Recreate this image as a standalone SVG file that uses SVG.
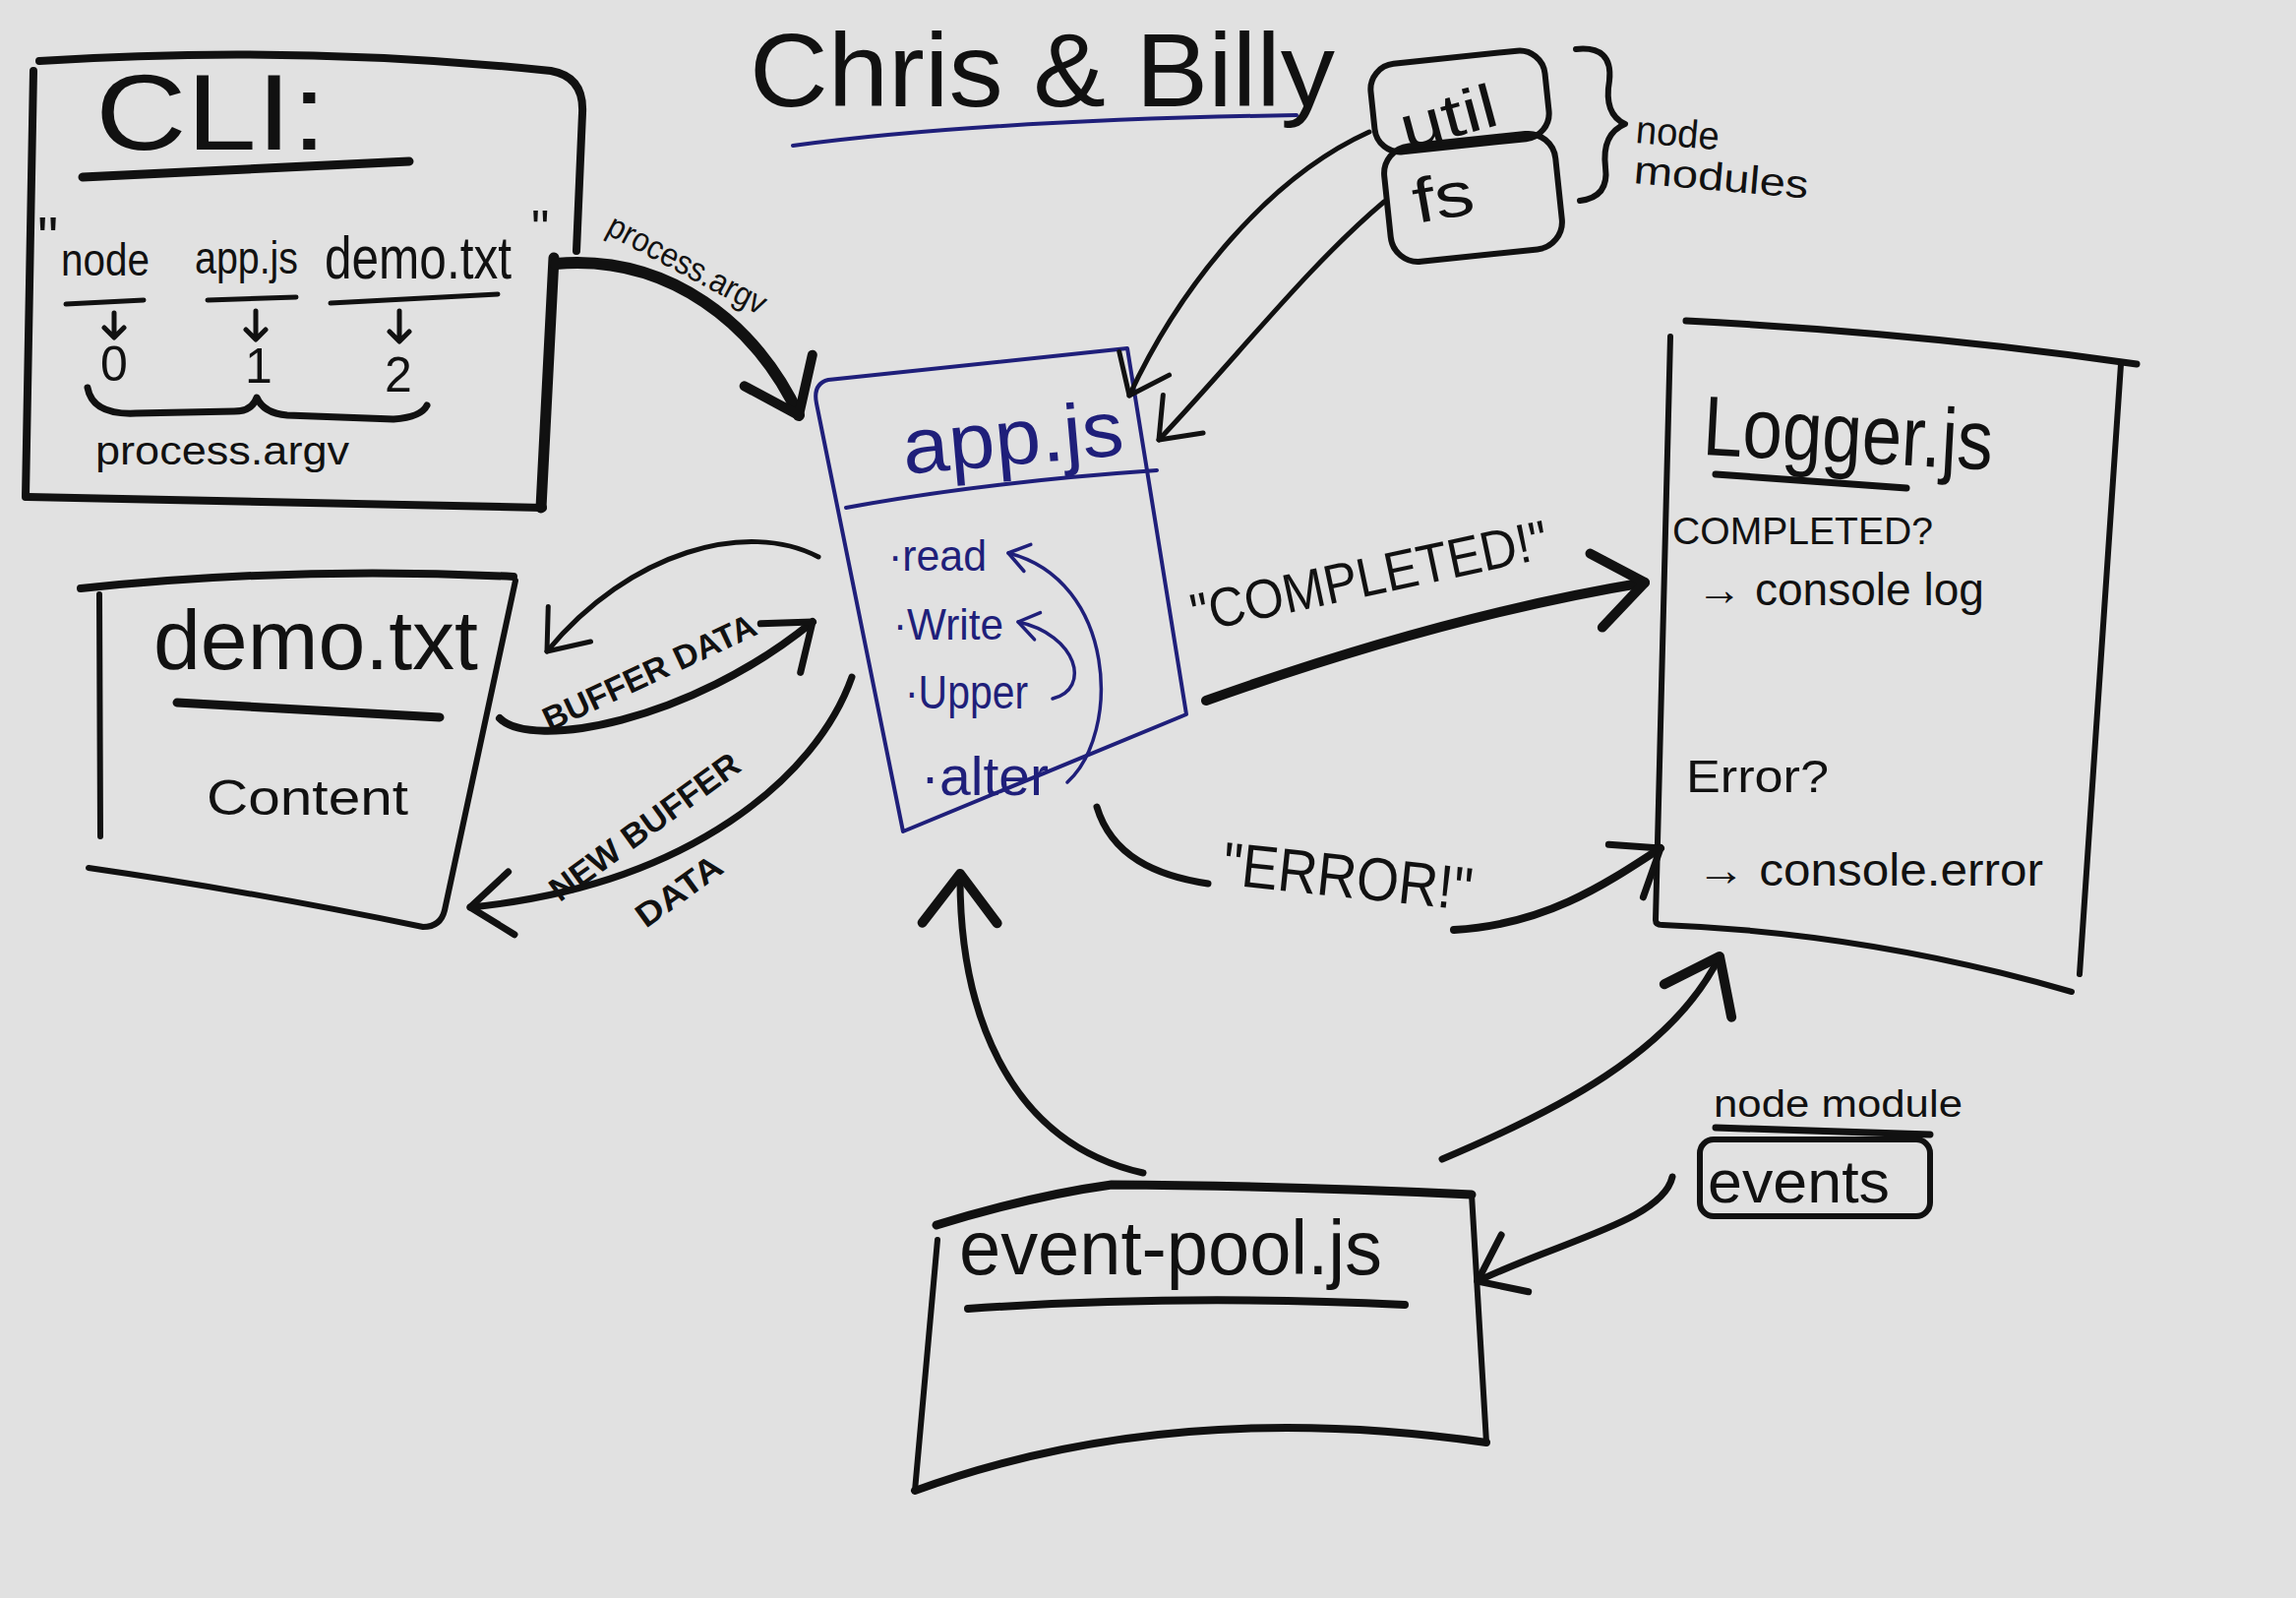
<svg xmlns="http://www.w3.org/2000/svg" width="2334" height="1624" viewBox="0 0 2334 1624">
<style>
.ink{fill:none;stroke:#111;stroke-linecap:round;stroke-linejoin:round}
.blue{fill:none;stroke:#1f1f7a;stroke-linecap:round;stroke-linejoin:round}
text{font-family:"Liberation Sans","DejaVu Sans",sans-serif;fill:#111}
.bt{fill:#1f1f7a}
.b{font-weight:bold}
</style>
<defs>
<marker id="hl" viewBox="-62 -48 72 96" refX="0" refY="0" markerWidth="72" markerHeight="96" orient="auto" markerUnits="userSpaceOnUse">
<path d="M -50 -38 L 0 0 L -50 38" fill="none" stroke="#111" stroke-width="10" stroke-linecap="round" stroke-linejoin="round"/>
</marker>
<marker id="hm" viewBox="-52 -40 60 80" refX="0" refY="0" markerWidth="60" markerHeight="80" orient="auto" markerUnits="userSpaceOnUse">
<path d="M -42 -32 L 0 0 L -42 32" fill="none" stroke="#111" stroke-width="7" stroke-linecap="round" stroke-linejoin="round"/>
</marker>
<marker id="hs" viewBox="-45 -35 52 70" refX="0" refY="0" markerWidth="52" markerHeight="70" orient="auto" markerUnits="userSpaceOnUse">
<path d="M -36 -28 L 0 0 L -36 28" fill="none" stroke="#111" stroke-width="5" stroke-linecap="round" stroke-linejoin="round"/>
</marker>
<marker id="hb" viewBox="-26 -20 30 40" refX="0" refY="0" markerWidth="30" markerHeight="40" orient="auto" markerUnits="userSpaceOnUse">
<path d="M -20 -14 L 0 0 L -20 14" fill="none" stroke="#1f1f7a" stroke-width="3.5" stroke-linecap="round" stroke-linejoin="round"/>
</marker>
</defs>
<rect width="2334" height="1624" fill="#e1e1e1"/>

<g id="title">
<text x="762" y="108" font-size="105" textLength="595" lengthAdjust="spacingAndGlyphs">Chris &amp; Billy</text>
<path class="blue" stroke-width="4" d="M 806 148 Q 1000 122 1318 117"/>
</g>

<g id="cli">
<path class="ink" stroke-width="8" d="M 40 62 Q 300 45 560 72 Q 594 78 592 115 L 586 255"/>
<path class="ink" stroke-width="11" d="M 563 262 L 550 516"/>
<path class="ink" stroke-width="8" d="M 34 72 L 26 505"/>
<path class="ink" stroke-width="8" d="M 28 505 L 552 516"/>
<text x="97" y="152" font-size="110" textLength="235" lengthAdjust="spacingAndGlyphs">CLI:</text>
<path class="ink" stroke-width="9" d="M 84 180 L 416 164"/>
<text x="38" y="262" font-size="60">"</text>
<text x="62" y="280" font-size="46" textLength="90" lengthAdjust="spacingAndGlyphs">node</text>
<text x="198" y="278" font-size="46" textLength="105" lengthAdjust="spacingAndGlyphs">app.js</text>
<text x="330" y="283" font-size="62"><tspan textLength="190" lengthAdjust="spacingAndGlyphs">demo.txt</tspan><tspan x="540" y="250" font-size="52">"</tspan></text>
<path class="ink" stroke-width="5" d="M 67 309 L 146 305 M 211 305 L 301 302 M 336 308 L 506 299"/>
<path class="ink" stroke-width="5" d="M 116 318 L 116 342 M 106 333 L 116 343 L 126 333 M 260 316 L 260 344 M 250 335 L 260 345 L 270 335 M 406 316 L 406 346 M 396 337 L 406 347 L 416 337"/>
<text x="116" y="387" font-size="50" text-anchor="middle">0</text>
<text x="263" y="389" font-size="50" text-anchor="middle">1</text>
<text x="405" y="398" font-size="50" text-anchor="middle">2</text>
<path class="ink" stroke-width="7" d="M 89 394 Q 94 422 138 420 L 238 418 Q 256 418 261 404 Q 268 420 292 422 L 400 426 Q 428 424 434 412"/>
<text x="97" y="472" font-size="40" textLength="258" lengthAdjust="spacingAndGlyphs">process.argv</text>
</g>

<g id="demo-txt">
<path class="ink" stroke-width="8" d="M 82 598 Q 300 575 522 586"/>
<path class="ink" stroke-width="6" d="M 101 604 L 102 850"/>
<path class="ink" stroke-width="6" d="M 524 590 L 452 925 Q 448 942 430 942 Q 250 905 90 882"/>
<text x="156" y="680" font-size="86" textLength="330" lengthAdjust="spacingAndGlyphs">demo.txt</text>
<path class="ink" stroke-width="9" d="M 180 714 L 447 729"/>
<text x="210" y="828" font-size="50" textLength="205" lengthAdjust="spacingAndGlyphs">Content</text>
</g>

<g id="app-js">
<path class="blue" stroke-width="4" d="M 842 386 L 1146 354 L 1206 726 L 918 845 L 830 410 Q 826 390 842 386 Z"/>
<path class="blue" stroke-width="4" d="M 860 516 Q 1000 490 1176 478"/>
<text class="bt" x="1030" y="472" font-size="80" text-anchor="middle" textLength="225" lengthAdjust="spacingAndGlyphs" transform="rotate(-5 1030 450)">app.js</text>
<text class="bt" x="903" y="580" font-size="44" textLength="100" lengthAdjust="spacingAndGlyphs">·read</text>
<text class="bt" x="908" y="650" font-size="44" textLength="112" lengthAdjust="spacingAndGlyphs">·Write</text>
<text class="bt" x="920" y="720" font-size="48" textLength="125" lengthAdjust="spacingAndGlyphs">·Upper</text>
<text class="bt" x="936" y="808" font-size="56" textLength="130" lengthAdjust="spacingAndGlyphs">·alter</text>
</g>

<g id="util">
<rect class="ink" stroke-width="6" x="1395" y="58" width="178" height="90" rx="26" transform="rotate(-6 1484 103)"/>
<text x="1472" y="140" font-size="62" text-anchor="middle" textLength="100" lengthAdjust="spacingAndGlyphs" transform="rotate(-15 1472 118)">util</text>
</g>
<g id="fs">
<rect class="ink" stroke-width="6" x="1410" y="142" width="175" height="118" rx="28" transform="rotate(-6 1497 201)"/>
<text x="1467" y="222" font-size="64" text-anchor="middle" textLength="62" lengthAdjust="spacingAndGlyphs" transform="rotate(-10 1467 200)">fs</text>
</g>
<g id="node-modules-label">
<path class="ink" stroke-width="6" d="M 1602 50 Q 1640 46 1636 82 Q 1630 116 1652 126 Q 1628 136 1632 170 Q 1636 200 1606 204"/>
<text x="1662" y="145" font-size="40" textLength="85" lengthAdjust="spacingAndGlyphs" transform="rotate(5 1662 145)">node</text>
<text x="1660" y="186" font-size="40" textLength="178" lengthAdjust="spacingAndGlyphs" transform="rotate(5 1660 186)">modules</text>
</g>

<g id="logger-js">
<path class="ink" stroke-width="7" d="M 1714 326 Q 1950 338 2172 370"/>
<path class="ink" stroke-width="6" d="M 1698 342 L 1683 935 Q 1683 940 1690 940 Q 1900 948 2106 1008"/>
<path class="ink" stroke-width="6" d="M 2156 370 L 2114 990"/>
<text x="1730" y="462" font-size="86" textLength="295" lengthAdjust="spacingAndGlyphs" transform="rotate(3 1730 462)">Logger.js</text>
<path class="ink" stroke-width="7" d="M 1744 482 L 1938 496"/>
<text x="1700" y="553" font-size="38" textLength="265" lengthAdjust="spacingAndGlyphs">COMPLETED?</text>
<text x="1725" y="615" font-size="46" textLength="292" lengthAdjust="spacingAndGlyphs">→ console log</text>
<text x="1714" y="805" font-size="46" textLength="145" lengthAdjust="spacingAndGlyphs">Error?</text>
<text x="1725" y="900" font-size="46" textLength="352" lengthAdjust="spacingAndGlyphs">→ console.error</text>
</g>

<g id="event-pool-js">
<path class="ink" stroke-width="9" d="M 952 1245 Q 1050 1215 1130 1204 Q 1300 1205 1496 1214"/>
<path class="ink" stroke-width="6" d="M 1496 1214 L 1511 1466"/>
<path class="ink" stroke-width="6" d="M 953 1260 L 930 1515"/>
<path class="ink" stroke-width="8" d="M 930 1515 Q 1190 1420 1511 1466"/>
<text x="975" y="1295" font-size="78" textLength="430" lengthAdjust="spacingAndGlyphs">event-pool.js</text>
<path class="ink" stroke-width="8" d="M 984 1330 Q 1200 1315 1428 1326"/>
</g>

<g id="events">
<text x="1742" y="1135" font-size="38" textLength="253" lengthAdjust="spacingAndGlyphs">node module</text>
<path class="ink" stroke-width="7" d="M 1744 1146 L 1962 1153"/>
<rect class="ink" stroke-width="6" x="1728" y="1158" width="234" height="78" rx="14"/>
<text x="1736" y="1222" font-size="62" textLength="185" lengthAdjust="spacingAndGlyphs">events</text>
</g>

<g id="connectors">
<path class="ink" stroke-width="12" marker-end="url(#hl)" d="M 565 268 C 680 258, 770 330, 812 422"/>
<text x="698" y="280" font-size="34" text-anchor="middle" textLength="178" lengthAdjust="spacingAndGlyphs" transform="rotate(28 698 270)">process.argv</text>
<path class="ink" stroke-width="5" marker-end="url(#hs)" d="M 832 566 C 760 528, 640 560, 556 662"/>
<path class="ink" stroke-width="8" marker-end="url(#hm)" d="M 508 730 C 540 762, 700 735, 826 632"/>
<text class="b" x="660" y="695" font-size="34" text-anchor="middle" textLength="235" lengthAdjust="spacingAndGlyphs" transform="rotate(-25 660 683)">BUFFER DATA</text>
<path class="ink" stroke-width="7" marker-end="url(#hm)" d="M 866 688 C 830 790, 700 900, 478 922"/>
<text class="b" x="655" y="852" font-size="34" text-anchor="middle" textLength="230" lengthAdjust="spacingAndGlyphs" transform="rotate(-36 655 840)">NEW BUFFER</text>
<text class="b" x="690" y="917" font-size="34" text-anchor="middle" textLength="100" lengthAdjust="spacingAndGlyphs" transform="rotate(-36 690 905)">DATA</text>
<path class="ink" stroke-width="10" marker-end="url(#hl)" d="M 1226 712 C 1400 650, 1550 612, 1672 592"/>
<text x="1392" y="605" font-size="56" text-anchor="middle" textLength="370" lengthAdjust="spacingAndGlyphs" transform="rotate(-12 1392 585)">"COMPLETED!"</text>
<path class="ink" stroke-width="7" d="M 1115 820 C 1130 870, 1175 890, 1228 898"/>
<path class="ink" stroke-width="8" marker-end="url(#hm)" d="M 1478 945 C 1570 940, 1630 900, 1688 862"/>
<text x="1370" y="912" font-size="62" text-anchor="middle" textLength="255" lengthAdjust="spacingAndGlyphs" transform="rotate(6 1370 890)">"ERROR!"</text>
<path class="ink" stroke-width="7" marker-end="url(#hl)" d="M 1162 1192 C 1020 1160, 975 1020, 976 888"/>
<path class="ink" stroke-width="7" marker-end="url(#hl)" d="M 1466 1178 C 1580 1130, 1700 1070, 1748 972"/>
<path class="ink" stroke-width="7" marker-end="url(#hm)" d="M 1700 1196 C 1690 1240, 1590 1260, 1502 1302"/>
<path class="ink" stroke-width="5" marker-end="url(#hs)" d="M 1392 134 C 1290 180, 1200 290, 1148 402"/>
<path class="ink" stroke-width="5" marker-end="url(#hs)" d="M 1407 205 C 1330 270, 1260 360, 1178 447"/>
<path class="blue" stroke-width="3.5" marker-end="url(#hb)" d="M 1070 710 C 1110 700, 1095 645, 1035 632"/>
<path class="blue" stroke-width="3.5" marker-end="url(#hb)" d="M 1085 795 C 1140 745, 1135 590, 1025 562"/>
</g>
</svg>
